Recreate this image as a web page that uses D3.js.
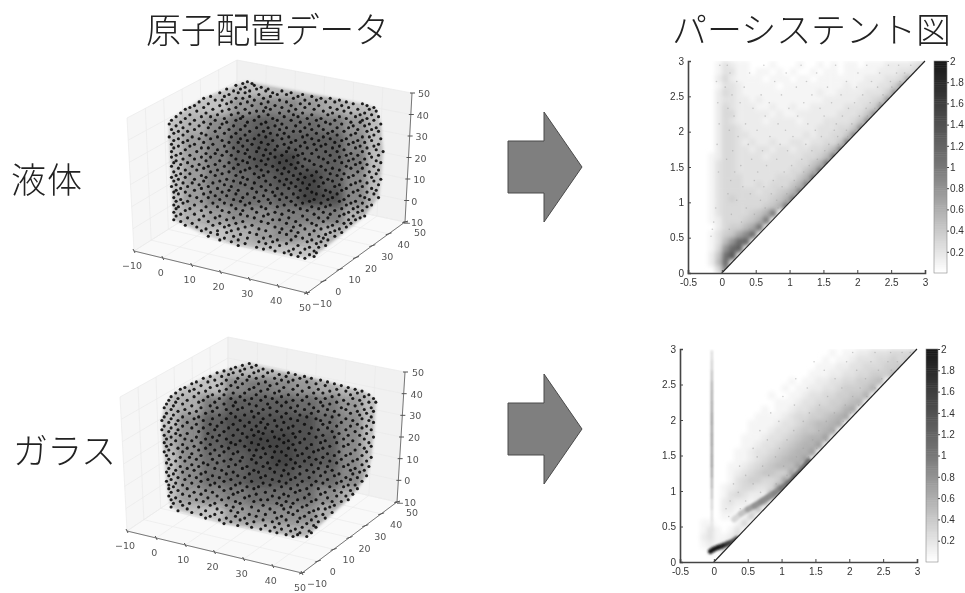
<!DOCTYPE html>
<html><head><meta charset="utf-8">
<script src="https://cdn.jsdelivr.net/npm/d3@7/dist/d3.min.js"></script>
<style>html,body{margin:0;background:#fff}svg{display:block}</style></head><body>
<script>
// ---------- text ----------
const titleLeft = "原子配置データ", titleRight = "パーシステント図";
const rowLiquid = "液体", rowGlass = "ガラス";
// ---------- axis values ----------
const cubeTicks = [-10,0,10,20,30,40,50];
const persTicks = [0,0.5,1,1.5,2,2.5,3];
const persXTicks = [-0.5,0,0.5,1,1.5,2,2.5,3];
const barTicks = [0.2,0.4,0.6,0.8,1,1.2,1.4,1.6,1.8,2];
// ---------- atom clouds: estimated darkness per 10x10 block of the picture plane, top row first ----------
const cloudShadeA = [
 [0,0,0,0,0,0,0,0,0,0],[0,0,.1,.3,.4,.4,.3,.2,.1,0],[0,.2,.4,.6,.7,.6,.6,.5,.3,0],[.1,.3,.5,.7,.8,.7,.7,.7,.4,.1],
 [.1,.3,.5,.7,.8,.9,.7,.7,.5,.1],[.1,.3,.5,.6,.7,.8,.9,.7,.4,.1],[.1,.3,.5,.6,.6,.7,.9,.8,.4,0],[0,.2,.3,.4,.4,.5,.5,.5,.2,0],
 [0,0,0,.2,.3,.4,.3,.2,0,0],[0,0,0,0,0,.1,.1,0,0,0]];
const cloudShadeB = [
 [0,0,0,0,0,0,0,0,0,0],[0,0,.1,.4,.5,.4,.3,.2,.1,0],[0,.2,.5,.7,.7,.7,.6,.5,.3,0],[.1,.4,.7,.8,.8,.8,.8,.6,.4,.1],
 [.2,.4,.7,.8,.9,.9,.8,.7,.4,.1],[.1,.4,.6,.7,.8,.9,.8,.7,.4,.1],[.1,.4,.6,.7,.8,.8,.7,.6,.4,0],[0,.3,.4,.5,.6,.6,.6,.4,.2,0],
 [0,0,.1,.3,.4,.4,.4,.2,0,0],[0,0,0,0,.1,.2,.2,0,0,0]];
// atoms read row by row: [v, [u...]] on a 0-100 picture plane
const cloudAtomsA = [
[98,[38]],[97,[36,40]],[96,[33,41]],[95,[37,44]],[94,[29,35,42,47]],[93,[32,39,46,53]],[92,[26,34,37,49,57]],[91,[30,43,51,55,62]],[90,[22,28,39,48,60,66]],[89,[19,33,36,45,58,70,74]],
[88,[24,27,41,52,63,68,78]],[87,[17,31,38,47,55,72,76,81]],[86,[21,29,35,44,61,65,84,88]],[85,[15,26,40,50,57,69,79,90]],[84,[13,19,33,46,53,63,74,82,93]],[83,[11,23,30,37,48,59,67,77,86,91]],
[82,[16,27,42,45,56,71,80,94]],[81,[9,20,34,39,52,62,75,83,89]],[80,[13,25,31,47,58,66,73,87,92]],[79,[7,18,22,36,43,54,60,78,85,95]],[78,[11,28,35,49,64,70,81,90]],[77,[5,15,24,33,41,51,57,68,76,88,93]],
[76,[9,19,29,38,46,61,72,83,87]],[75,[4,13,22,27,44,53,65,74,79,91,96]],[74,[7,17,32,37,50,59,69,84,89]],[73,[10,21,26,42,47,55,63,77,82,94]],[72,[5,15,30,35,52,66,71,86,92]],[71,[8,12,24,39,45,58,61,75,80,90,95]],
[70,[6,18,28,33,48,54,68,73,85]],[69,[10,20,37,43,51,64,77,83,93]],[68,[4,14,25,31,46,56,62,71,88,91]],[67,[8,17,22,35,41,53,66,74,81,96]],[66,[6,12,27,38,49,59,69,79,86,92]],[65,[10,19,30,34,44,57,63,76,84,89]],
[64,[5,15,23,40,47,54,67,72,82,95]],[63,[8,13,28,36,51,61,70,78,87,93]],[62,[6,18,21,32,43,56,64,75,85,90]],[61,[11,25,38,46,50,59,68,80,94]],[60,[5,16,29,34,42,55,72,77,88,97]],[59,[9,20,24,37,48,62,66,83,91]],
[58,[7,13,27,31,45,53,60,74,81,86,95]],[57,[5,18,22,39,50,58,69,78,92]],[56,[10,15,33,41,47,63,71,84,89]],[55,[7,20,26,36,44,55,65,76,82,94]],[54,[6,12,30,38,52,60,73,79,87,96]],[53,[9,17,24,34,46,57,67,85,90]],
[52,[5,14,21,28,42,49,62,70,81,93]],[51,[8,19,32,39,54,59,75,83,88]],[50,[11,16,25,37,44,51,64,72,78,95]],[49,[6,22,30,35,47,56,68,86,91]],[48,[9,13,27,41,53,61,74,80,94]],[47,[7,18,24,33,45,58,66,77,84,89]],
[46,[5,11,20,36,43,50,63,70,82,92]],[45,[8,15,29,38,55,60,73,79,96]],[44,[6,19,26,32,46,52,67,75,87,93]],[43,[10,14,23,35,41,57,62,71,85,90]],[42,[7,17,28,37,48,54,65,78,83,95]],[41,[5,12,21,31,44,59,69,76,88]],
[40,[9,18,25,40,51,56,64,81,92]],[39,[7,15,30,34,46,61,72,79,86,94]],[38,[6,11,22,27,42,49,66,74,84,90]],[37,[8,19,33,38,53,58,68,77,93]],[36,[13,24,29,45,50,63,71,82,87]],[35,[6,16,21,36,41,55,60,75,89,95]],
[34,[9,26,32,47,52,67,73,80,91]],[33,[7,12,18,35,43,57,65,78,85]],[32,[10,23,28,39,48,62,70,83,88]],[31,[6,15,31,37,54,59,74,81,92]],[30,[8,20,25,44,51,66,72,86,90]],[29,[7,13,33,40,46,61,69,79,84]],
[28,[11,18,27,36,56,64,76,88]],[27,[6,22,30,42,50,58,71,82,86]],[26,[9,15,35,47,53,67,74,80]],[25,[7,19,26,38,45,62,78,84,89]],[24,[12,24,32,41,56,69,73,87]],[23,[6,17,29,49,52,64,82,85]],
[22,[9,21,36,44,59,71,77]],[21,[14,26,33,47,55,66,80,83]],[20,[11,23,30,40,61,68,75]],[19,[16,28,37,50,58,73,81]],[18,[20,34,43,53,63,70,78]],[17,[18,25,31,46,57,67,76]],
[16,[22,29,39,52,60,74,79]],[15,[25,35,42,55,65,72]],[14,[21,32,48,59,69,76]],[13,[28,38,45,62,71]],[12,[26,34,51,57,66,73]],[11,[31,43,49,64,70]],[10,[37,46,55,68]],[9,[34,52,60,72]],[8,[42,48,65,69]],[7,[45,58,63]],[6,[50,56,67]],[5,[54,61,68]],[4,[57,65]],[3,[60,67]],[2,[63]]];
const cloudAtomsB = [
[97,[41]],[96,[38,44]],[95,[35,42]],[94,[33,39,47]],[93,[30,37,45,51]],[92,[27,34,43,49,58]],[91,[32,38,54,61]],[90,[24,29,41,47,57,65]],[89,[21,36,44,52,63,68]],[88,[26,31,40,55,60,72]],
[87,[18,23,35,48,58,66,75]],[86,[16,29,38,45,53,70,78]],[85,[20,27,33,50,62,74,81]],[84,[13,24,36,43,56,67,84]],[83,[11,17,31,41,49,60,71,79,87]],[82,[15,22,28,46,54,64,76,83,90]],
[81,[9,19,34,39,52,69,73,88]],[80,[12,25,30,44,58,62,80,85,93]],[79,[7,17,23,37,48,55,66,77,91]],[78,[10,28,33,42,51,70,74,86,95]],[77,[6,14,21,39,46,60,64,82,89]],[76,[9,19,26,35,53,57,72,79,93,96]],
[75,[5,12,30,41,49,67,76,84,90]],[74,[8,16,24,34,44,55,62,73,87]],[73,[4,20,27,38,50,59,69,81,94]],[72,[7,13,31,36,47,65,75,83,91]],[71,[10,18,25,42,53,61,71,78,88,95]],[70,[5,15,22,33,45,57,68,85,92]],
[69,[8,28,39,50,63,74,80,89]],[68,[4,12,19,35,43,55,66,77,94]],[67,[7,17,25,31,47,59,70,83,90]],[66,[3,10,21,37,52,62,72,86,93]],[65,[6,14,29,41,46,56,76,81,95]],[64,[9,18,24,34,49,65,73,88]],
[63,[4,12,27,39,44,53,60,79,85,92]],[62,[7,16,21,32,48,58,68,75,90]],[61,[3,10,26,36,42,55,71,83,94]],[60,[6,19,30,45,51,63,77,87]],[59,[9,14,23,38,47,60,67,80,92]],[58,[4,11,28,34,43,56,73,84,89]],
[57,[7,18,25,40,52,61,70,78,95]],[56,[5,13,22,31,46,54,65,82,91]],[55,[9,16,27,37,49,58,74,86]],[54,[4,20,33,42,56,63,72,79,93]],[53,[7,12,24,35,45,60,68,84,89]],[52,[5,17,29,39,50,53,76,82,94]],
[51,[10,14,22,32,47,58,66,73,91]],[50,[6,19,26,41,44,61,71,87]],[49,[4,12,30,36,52,55,69,80,92]],[48,[8,16,24,34,48,64,75,85]],[47,[5,20,28,43,57,62,78,83,90]],[46,[11,15,38,46,51,67,73,94]],
[45,[6,18,25,33,42,59,70,81,88]],[44,[9,13,30,37,54,65,76,86,92]],[43,[5,21,27,44,49,61,72,79]],[42,[7,16,23,35,53,57,68,84,90]],[41,[11,19,32,40,47,63,75,82,93]],[40,[6,14,26,38,50,60,71,87]],
[39,[9,17,29,43,56,66,77,85,91]],[38,[5,12,22,34,45,52,69,74,89]],[37,[8,20,31,41,58,63,80,86]],[36,[6,15,25,36,48,55,72,78,92]],[35,[10,18,28,39,46,61,67,83,88]],[34,[7,13,23,33,51,59,75,85]],
[33,[5,20,30,42,54,64,70,81,90]],[32,[9,16,26,37,47,57,73,79]],[31,[6,12,24,35,50,62,68,84,87]],[30,[8,19,28,40,45,55,76,82]],[29,[6,14,33,43,59,66,71,88]],[28,[10,22,30,38,52,63,78,85]],
[27,[7,17,25,36,48,61,74,81]],[26,[12,20,34,44,56,67,72,86]],[25,[6,15,27,41,51,58,79,83]],[24,[9,23,32,39,54,65,75]],[23,[7,18,29,46,49,62,70,84]],[22,[11,21,35,43,57,68,77,81]],
[21,[8,15,26,37,53,60,73]],[20,[12,24,31,47,55,66,78]],[19,[7,19,34,42,59,64,76]],[18,[14,27,38,50,56,71,74]],[17,[10,22,33,45,62,69]],[16,[16,29,36,52,58,67,77]],
[15,[20,26,41,48,60,73]],[14,[24,35,44,55,65,70]],[13,[22,31,39,53,63,74]],[12,[28,37,47,57,68]],[11,[33,43,51,62,71]],[10,[30,40,54,66]],[9,[36,48,58,69]],[8,[42,52,64,70]],[7,[46,55,61]],[6,[50,59,67]],[5,[53,63,68]],[4,[57,62]],[3,[60,66]]];
// ---------- persistence densities: units of 0.07, top row is y=2.9..3.0, first column is x0 ----------
const gridUnit = 0.07;
const liquidX0 = -0.3;
const liquidGrid = [
[0,0,1,3,2,1,1,0,0,0,1,0,0,0,1,0,0,1,0,1,0,1,1,0,1,1,1,2,2,2,2,3,4,7],
[0,0,1,3,3,1,1,0,1,1,0,1,0,1,0,0,1,0,1,1,0,1,1,1,1,1,2,2,2,3,3,4,8],
[0,0,2,4,2,1,1,1,1,0,1,1,1,0,1,1,0,1,1,1,1,1,1,1,2,2,2,3,3,4,9],
[0,0,1,3,3,2,1,1,1,1,1,0,1,1,1,1,1,1,1,1,1,2,1,2,2,2,3,3,5,10],
[0,0,2,4,3,2,1,1,1,1,1,1,1,1,1,1,1,2,1,1,2,2,2,2,3,3,3,5,11],
[0,0,2,3,3,2,2,1,2,1,1,1,1,1,1,1,1,1,2,2,2,2,2,3,3,4,5,11],
[0,0,2,4,3,2,2,2,1,1,2,1,1,2,1,1,2,2,2,2,2,3,3,3,4,5,12],
[0,0,2,4,4,2,2,2,2,2,1,2,1,1,2,2,2,2,2,2,3,3,3,4,6,12],
[0,0,2,4,3,2,2,2,2,1,2,2,2,2,1,2,2,2,3,3,3,3,4,6,12],
[0,0,2,4,4,3,2,2,2,2,2,2,2,2,2,2,2,3,3,3,4,4,6,13],
[0,0,2,4,4,3,3,2,2,2,2,2,2,2,2,3,2,3,3,4,4,6,13],
[0,0,2,4,4,3,2,3,2,2,3,2,2,3,3,2,3,3,4,4,6,14],
[0,0,2,4,4,3,3,2,3,3,2,3,3,2,3,3,4,4,5,7,14],
[0,1,2,4,4,3,3,3,3,2,3,3,3,3,3,4,4,5,7,15],
[0,1,3,4,4,3,3,3,3,3,3,3,3,3,4,4,6,8,15],
[0,1,3,4,4,3,3,3,3,3,3,3,3,4,4,6,8,15],
[0,1,3,4,4,4,3,3,3,3,3,4,4,4,6,8,15],
[0,1,3,4,4,4,3,3,4,3,4,4,4,6,8,14],
[0,1,3,4,4,4,4,4,3,4,4,5,6,8,14],
[0,1,3,4,5,4,4,4,4,4,5,6,8,14],
[0,1,3,4,4,4,4,4,4,5,6,8,14],
[0,1,3,4,4,4,4,5,6,8,14],
[0,1,2,4,4,4,5,6,8,14],
[0,0,2,4,5,5,7,9,15],
[0,1,3,5,6,9,12,16],
[0,1,3,7,11,16,17],
[0,1,4,11,16,18],
[0,2,6,15,19],
[0,2,7,16],
[0,0,4,13]];
const glassX0 = -0.2;
const glassGrid = [
[0,0,0,0,0,0,0,0,0,0,0,0,0,0,0,0,0,0,0,1,0,1,1,2,2,3,3,3,4,4,4,5],
[0,0,0,0,0,0,0,0,0,0,0,0,0,0,0,0,0,0,1,0,1,1,2,3,3,3,4,4,5,4,5],
[0,0,0,0,0,0,0,0,0,0,0,0,0,0,0,0,0,1,1,1,2,2,3,3,4,4,4,5,5,6],
[0,0,0,0,0,0,0,0,0,0,0,0,0,0,0,0,1,1,1,2,2,3,3,4,4,5,5,5,7],
[0,0,0,0,0,0,0,0,0,0,0,0,0,1,0,1,1,2,2,3,3,4,4,5,5,6,7],
[0,0,0,0,0,0,0,0,0,0,0,0,1,0,1,1,2,2,3,3,4,5,5,5,6,8],
[0,0,0,0,0,0,0,0,0,0,1,0,0,1,1,2,3,3,4,4,5,5,6,6,8],
[0,0,0,0,0,0,0,0,0,0,0,1,1,1,2,3,3,4,4,5,5,6,7,8],
[0,0,0,0,0,0,0,0,0,1,0,1,1,2,3,3,4,5,5,5,6,8,9],
[0,0,0,0,0,0,0,0,1,1,1,1,2,3,4,4,5,5,6,7,8,9],
[0,0,0,0,0,0,0,1,1,1,1,2,3,3,4,5,6,7,7,8,9],
[0,0,0,0,0,0,0,1,1,1,2,3,3,4,5,6,6,7,8,9],
[0,0,0,0,0,0,1,1,1,2,3,3,4,5,6,7,8,8,10],
[0,0,0,0,0,0,1,1,2,3,3,4,5,6,7,8,8,10],
[0,0,0,0,0,1,1,2,3,3,4,5,6,7,8,8,10],
[0,0,0,0,0,1,1,2,3,4,5,6,7,8,8,10],
[0,0,0,0,1,1,2,3,4,5,6,7,7,7,10],
[0,0,0,0,1,2,3,4,5,6,6,5,5,10],
[0,0,0,0,1,3,4,5,5,4,4,5,10],
[0,0,0,1,2,3,4,4,3,3,4,10],
[0,0,0,1,3,4,3,2,2,2,9],
[0,0,0,2,3,2,2,1,2,7],
[0,0,0,2,2,1,1,2,6],
[0,0,0,1,1,0,1,5],
[1,1,0,0,0,1,4],
[1,3,1,0,1,3],
[2,3,1,1,2,4],
[1,2,1,2,4],
[0,1,0,3],
[0,0,0]];
// faint specks of the fan, read row by row: [y, [x...]] (x in hundredths)
const liquidSpecks = [
[2.94,[-3,8,62,117,168,214,246,261,279]],[2.83,[12,41,95,140,201,233,258,270]],[2.71,[-8,22,78,125,184,221,249,263]],[2.63,[5,33,110,156,199,230,251]],[2.52,[15,58,88,133,176,208,238]],
[2.41,[-6,27,70,121,162,196,219,233]],[2.33,[9,46,99,145,187,213,226]],[2.22,[18,64,112,151,178,203,215]],[2.11,[-4,35,83,127,169,192,206]],[2.02,[11,52,94,138,166,184,197]],
[1.93,[24,71,105,147,171,186]],[1.82,[-7,39,86,124,158,172,178]],[1.73,[16,60,97,133,152,166]],[1.61,[7,44,81,118,141,155]],[1.52,[28,66,103,129,145]],
[1.43,[-5,19,53,92,121,134]],[1.31,[13,48,76,107,122]],[1.22,[31,62,89,109]],[1.12,[9,42,73,96,106]],[1.03,[22,57,81,94]],[0.92,[-9,36,64,83]],[0.83,[14,48,70,78]],[0.72,[-12,29,55,66]],[0.62,[-14,11,41,56]],[0.52,[-16,24,46]]];
const glassSpecks = [
[2.95,[205,238,261,278,290]],[2.82,[148,196,232,257,271]],[2.7,[163,211,243,262]],[2.58,[121,179,224,248]],[2.45,[138,189,216,238]],[2.33,[102,168,205,226]],
[2.21,[119,156,194,214]],[2.1,[84,141,178,202]],[1.98,[96,132,166,191]],[1.85,[68,118,155,177]],[1.72,[79,108,146,165]],[1.6,[58,97,132,152]],
[1.48,[64,91,122,140]],[1.35,[38,72,103,126]],[1.22,[47,81,108]],[1.1,[29,58,92]],[0.98,[36,69,88]],[0.86,[24,47,71]],[0.75,[18,39]],[0.64,[22,33]]];
// ---------- hand-read curved features of the glass diagram ----------
const glassRidgeX = [0.3,0.4,0.5,0.6,0.7,0.8,0.9,1.0,1.1,1.2,1.3,1.4];
const glassRidgeY = [0.6,0.68,0.74,0.79,0.85,0.91,0.97,1.04,1.11,1.2,1.3,1.42];
const glassRidgeV = [0.3,0.45,0.7,0.8,0.85,0.85,0.9,1.0,1.1,1.2,1.1,0.7];
const glassBandX = [-0.05,0.0,0.06,0.12,0.2,0.28,0.34];
const glassBandY = [0.15,0.18,0.205,0.225,0.255,0.29,0.33];
const glassBandV = [2,2,2,1.9,1.6,1.4,1.1];
const glassStemY = [0.45,0.6,0.75,0.9,1.05,1.2,1.35,1.5,1.65,1.8,1.95,2.1,2.25,2.4,2.55,2.7,2.85,2.97];
const glassStemV = [0.2,0.25,0.35,0.5,0.65,0.8,0.9,0.85,0.9,0.85,0.9,0.8,0.75,0.7,0.55,0.4,0.3,0.2];

// ---------- page ----------
const W = 965, H = 593;
const svg = d3.select("body").append("svg").attr("width",W).attr("height",H).style("background","#fff");
const defs = svg.append("defs");
[["soft",2.0],["softer",0.9],["haze",3.5],["edge",1.6],["text",0.35]].forEach(([id,s])=>{
  defs.append("filter").attr("id",id).attr("x","-20%").attr("y","-20%").attr("width","140%").attr("height","140%")
    .append("feGaussianBlur").attr("stdDeviation",s);
});
const cjk = "'Noto Sans CJK JP','Noto Sans',sans-serif";
function bigText(x,y,t,w){
  svg.append("text").attr("x",x).attr("y",y).attr("font-family",cjk).attr("font-size",35).attr("font-weight",300)
    .attr("fill","#222").attr("textLength",w).attr("lengthAdjust","spacing").text(t);
}
bigText(146,43,titleLeft,243);
bigText(672,43,titleRight,279);
bigText(11,193,rowLiquid,71);
bigText(13,464,rowGlass,103);

// arrows
[[508,112],[508,374]].forEach(([x,y])=>{
  svg.append("path").attr("d",`M${x},${y+29}H${x+36}V${y}L${x+74},${y+55}L${x+36},${y+110}V${y+81}H${x}Z`)
    .attr("fill","#7f7f7f").attr("stroke","#4a4a4a").attr("stroke-width",1);
});

// 3D panels
function cube(c){
  const n = d3.scaleLinear([-10,50],[0,1]);
  const lerp=(a,b,t)=>[a[0]+(b[0]-a[0])*t,a[1]+(b[1]-a[1])*t];
  const P=(x,y,z)=>{
    const a=n(x),b=n(y),d=n(z);
    const lo=lerp(lerp(c.c000,c.c100,a),lerp(c.c010,c.c110,a),b);
    const hi=lerp(lerp(c.c001,c.c101,a),lerp(c.c011,c.c111,a),b);
    return lerp(lo,hi,d);
  };
  const g=svg.append("g");
  const poly=(pts,f)=>g.append("polygon").attr("points",pts.map(p=>p.join(",")).join(" ")).attr("fill",f);
  poly([P(-10,-10,-10),P(-10,50,-10),P(-10,50,50),P(-10,-10,50)],"#f6f6f6");
  poly([P(-10,50,-10),P(50,50,-10),P(50,50,50),P(-10,50,50)],"#f1f1f1");
  poly([P(-10,-10,-10),P(50,-10,-10),P(50,50,-10),P(-10,50,-10)],"#f9f9f9");
  const seg=(a,b,col,w)=>g.append("line").attr("x1",a[0]).attr("y1",a[1]).attr("x2",b[0]).attr("y2",b[1]).attr("stroke",col).attr("stroke-width",w);
  cubeTicks.forEach(t=>{
    seg(P(t,-10,-10),P(t,50,-10),"#ebebeb",.7); seg(P(t,50,-10),P(t,50,50),"#e9e9e9",.7);
    seg(P(-10,t,-10),P(50,t,-10),"#ebebeb",.7); seg(P(-10,t,-10),P(-10,t,50),"#e9e9e9",.7);
    seg(P(-10,-10,t),P(-10,50,t),"#e9e9e9",.7); seg(P(-10,50,t),P(50,50,t),"#e9e9e9",.7);
  });
  // darkness under the atoms, kept inside the outline of the atoms themselves
  const u=d3.scaleLinear([0,100],c.u), v=d3.scaleLinear([0,100],c.v);
  const atoms=c.atoms.flatMap(([vv,us])=>us.map(uu=>[uu,vv]));
  const hull=d3.polygonHull(atoms.map(d=>[u(d[0]),v(d[1])]));
  defs.append("clipPath").attr("id","hull"+c.id).append("polygon").attr("points",hull.map(p=>p.join(",")).join(" "));
  const shade=d3.scalePow().exponent(0.6).domain([0,1]).range(["#ffffff","#3e3e3e"]);
  const hz=g.append("g").attr("filter","url(#edge)").style("mix-blend-mode","multiply")
    .append("g").attr("clip-path",`url(#hull${c.id})`)
    .append("g").attr("filter","url(#haze)");
  c.shade.forEach((row,ri)=>row.forEach((s,ci)=>{
    hz.append("rect").attr("x",u(ci*10)).attr("y",v(100-ri*10)).attr("width",u(10)-u(0)+.5).attr("height",v(0)-v(10)+.5).attr("fill",shade(Math.max(s,.12)));
  }));
  // atoms
  g.append("g").attr("filter","url(#text)").selectAll("circle").data(atoms).join("circle")
    .attr("cx",d=>u(d[0])).attr("cy",d=>v(d[1])).attr("r",1.55).attr("fill","#0a0a0a").attr("fill-opacity",.92);
  // axes
  seg(P(-10,-10,-10),P(50,-10,-10),"#777",1); seg(P(50,-10,-10),P(50,50,-10),"#777",1); seg(P(50,50,-10),P(50,50,50),"#777",1);
  const lab=g.append("g").attr("font-family","'DejaVu Sans',sans-serif").attr("font-size",9.5).attr("fill","#555")
    .attr("text-anchor","middle").attr("filter","url(#text)");
  const fmt=t=>t<0?"\u2212"+(-t):""+t;
  cubeTicks.forEach((t,i)=>{
    let p=P(t,-10,-10); seg([p[0]-1,p[1]-2],[p[0]+1,p[1]+2],"#555",1);
    lab.append("text").attr("x",p[0]+c.xl[0]).attr("y",p[1]+c.xl[1]).text(fmt(t));
    p=P(50,t,-10); seg([p[0]-3,p[1]+1],[p[0]+3,p[1]-1],"#555",1);
    lab.append("text").attr("x",p[0]+c.yl[0]).attr("y",p[1]+c.yl[1]).text(fmt(t));
    p=P(50,50,t); seg([p[0]-2,p[1]],[p[0]+3,p[1]],"#555",1);
    lab.append("text").attr("x",p[0]+c.zl[0]+(t<=0?-4:0)).attr("y",p[1]+c.zl[1]).text(fmt(t));
  });
}
cube({id:"A",c000:[134,251],c100:[307,293],c010:[237,186],c110:[405,222],c001:[127,118],c101:[301,160],c011:[237,60],c111:[412,93],
  u:[160,390],v:[262,78],shade:cloudShadeA,atoms:cloudAtomsA,xl:[-2,18],yl:[15,14],zl:[12,4]});
cube({id:"B",c000:[127,531],c100:[302,573],c010:[228,463],c110:[397,502],c001:[120,397],c101:[295,440],c011:[228,337],c111:[405,372],
  u:[155,385],v:[542,358],shade:cloudShadeB,atoms:cloudAtomsB,xl:[-2,18],yl:[15,14],zl:[13,4]});

// persistence panels
const color=d3.scaleLinear([0,1,2],["#ffffff","#777777","#161616"]);
function persistence(c){
  const x=d3.scaleLinear([-0.5,3],c.xr), y=d3.scaleLinear([0,3],c.yr);
  const id="clip"+c.id;
  defs.append("clipPath").attr("id",id).append("polygon")
    .attr("points",[[-0.5,0],[0,0],[3,3],[-0.5,3]].map(p=>x(p[0])+","+y(p[1])).join(" "));
  const holder=svg.append("g").attr("clip-path",`url(#${id})`);
  const cells=holder.append("g").attr("filter","url(#soft)");
  c.grid.forEach((row,ri)=>row.forEach((val,ci)=>{
    const yv=2.9-ri*0.1, xv=c.x0+ci*0.1;
    if(val>0) cells.append("rect").attr("x",x(xv)).attr("y",y(yv+0.1)).attr("width",x(0.1)-x(0)+.6).attr("height",y(0)-y(0.1)+.6).attr("fill",color(val*gridUnit));
  }));
  const specks=c.specks.flatMap(([yy,xs])=>xs.map(xx=>[xx/100,yy]));
  holder.append("g").attr("filter","url(#text)").selectAll("circle").data(specks).join("circle")
    .attr("cx",d=>x(d[0])).attr("cy",d=>y(d[1])).attr("r",.8).attr("fill",color(0.7)).attr("fill-opacity",.5);
  if(c.extra) c.extra(holder,x,y);
  svg.append("line").attr("x1",x(0)).attr("y1",y(0)).attr("x2",x(3)).attr("y2",y(3)).attr("stroke","#222").attr("stroke-width",1.1).attr("filter","url(#text)");
  const ax=svg.append("g").attr("font-family","'Liberation Serif',serif");
  const gx=ax.append("g").attr("transform",`translate(0,${c.yr[0]})`).call(d3.axisBottom(x).tickValues(persXTicks).tickSize(-3).tickPadding(6).tickFormat(d=>d));
  const gy=ax.append("g").attr("transform",`translate(${c.xr[0]},0)`).call(d3.axisLeft(y).tickValues(persTicks).tickSize(-3).tickPadding(4).tickFormat(d=>d));
  [gx,gy].forEach(a=>{a.selectAll("path,line").attr("stroke","#444"); a.select("path").attr("stroke-width",1.6);
    a.selectAll("text").attr("font-size",10).attr("fill","#333"); a.attr("filter","url(#text)");});
  // colour bar
  const by=d3.scaleLinear([0,2],[c.yr[0],c.yr[1]]);
  const bar=svg.append("g");
  d3.range(0,2,0.02).forEach(t=>{
    bar.append("rect").attr("x",c.bar[0]).attr("width",c.bar[1]-c.bar[0]).attr("y",by(t+0.02)).attr("height",by(t)-by(t+0.02)+.5).attr("fill",color(t));
  });
  bar.append("rect").attr("x",c.bar[0]).attr("width",c.bar[1]-c.bar[0]).attr("y",by(2)).attr("height",by(0)-by(2)).attr("fill","none").attr("stroke","#888").attr("stroke-width",.6);
  const gb=svg.append("g").attr("transform",`translate(${c.bar[1]},0)`).attr("font-family","'Liberation Serif',serif")
    .call(d3.axisRight(by).tickValues(barTicks).tickSize(2).tickPadding(1).tickFormat(d=>d));
  gb.select("path").remove(); gb.selectAll("line").attr("stroke","#444");
  gb.selectAll("text").attr("font-size",10).attr("fill","#333"); gb.attr("filter","url(#text)");
}
persistence({id:"a",xr:[688,925],yr:[273,61],bar:[934,947],grid:liquidGrid,x0:liquidX0,specks:liquidSpecks});
persistence({id:"b",xr:[680,917],yr:[562,349],bar:[926,938],grid:glassGrid,x0:glassX0,specks:glassSpecks,extra:(h,x,y)=>{
  const f=h.append("g").attr("filter","url(#softer)");
  const stroke=(X,Y,V,w)=>X.slice(1).forEach((_,i)=>{
    f.append("line").attr("x1",x(X[i])).attr("y1",y(Y[i])).attr("x2",x(X[i+1])).attr("y2",y(Y[i+1]))
     .attr("stroke",color(V[i])).attr("stroke-width",w).attr("stroke-linecap","round");});
  stroke(glassRidgeX,glassRidgeY,glassRidgeV,6);
  stroke(glassBandX,glassBandY,glassBandV,5);
  stroke(glassStemY.map(()=>-0.03),glassStemY,glassStemV,2);
}});
</script></body></html>
